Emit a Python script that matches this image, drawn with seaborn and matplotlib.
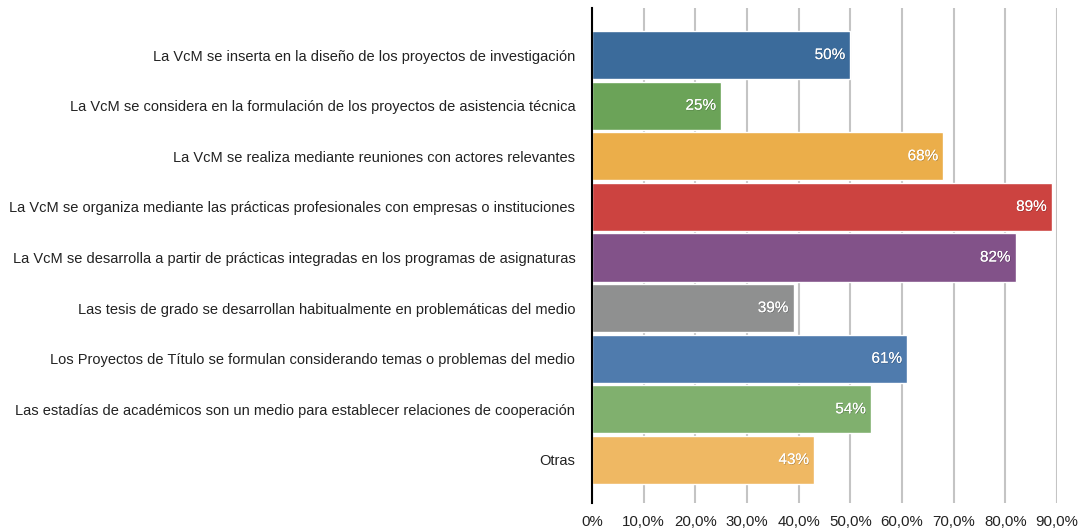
import matplotlib
matplotlib.use("Agg")
import matplotlib.pyplot as plt
import matplotlib.patheffects as pe
import seaborn as sns
import pandas as pd

categories = [
    "La VcM se inserta en la diseño de los proyectos de investigación",
    "La VcM se considera en la formulación de los proyectos de asistencia técnica",
    "La VcM se realiza mediante reuniones con actores relevantes",
    "La VcM se organiza mediante las prácticas profesionales con empresas o instituciones",
    "La VcM se desarrolla a partir de prácticas integradas en los programas de asignaturas",
    "Las tesis de grado se desarrollan habitualmente en problemáticas del medio",
    "Los Proyectos de Título se formulan considerando temas o problemas del medio",
    "Las estadías de académicos son un medio para establecer relaciones de cooperación",
    "Otras",
]
values = [50, 25, 68, 89, 82, 39, 61, 54, 43]
colors = ["#3B6B9B", "#6BA358", "#EBAE4A", "#CC4340", "#825289",
          "#8F9090", "#4F7BAD", "#80B06E", "#EFB863"]
tick_values = [0, 10, 20, 30, 40, 50, 60, 70, 80, 90]
tick_labels = ["0%", "10,0%", "20,0%", "30,0%", "40,0%", "50,0%",
               "60,0%", "70,0%", "80,0%", "90,0%"]

sns.set_style("white")
plt.rcParams["font.family"] = ["Liberation Sans", "DejaVu Sans"]

df = pd.DataFrame({"cat": categories, "val": values})

fig = plt.figure(figsize=(10.8, 5.29), dpi=100)
ax = fig.add_axes([592/1080, 1 - 503/529, (1057 - 592)/1080, (503 - 8)/529])

sns.barplot(data=df, x="val", y="cat", hue="cat", palette=colors,
            legend=False, width=0.95, ax=ax, zorder=3, saturation=1)

ax.set_xlim(0, 90)
ax.set_ylim(8.85, -0.93)
ax.set_xticks(tick_values)
ax.set_xticklabels(tick_labels, fontsize=10.8, color="#222222")
ax.tick_params(axis="y", labelsize=10.5, colors="#222222", length=0, pad=12)
ax.tick_params(axis="x", length=0, pad=9)
ax.set_xlabel("")
ax.set_ylabel("")
ax.grid(axis="x", color="#C4C4C4", linewidth=1.5, zorder=0)
ax.grid(axis="y", visible=False)
for s in ["top", "right", "bottom"]:
    ax.spines[s].set_visible(False)
ax.spines["left"].set_color("black")
ax.spines["left"].set_linewidth(1.5)
ax.spines["left"].set_zorder(5)

for i, v in enumerate(values):
    ax.text(v - 1.0, i, f"{v}%", ha="right", va="center", color="white",
            fontsize=11, zorder=6,
            path_effects=[pe.withSimplePatchShadow(offset=(0.5, -0.5), shadow_rgbFace="black", alpha=0.25), pe.Normal()])

fig.savefig("out.png", dpi=100)
